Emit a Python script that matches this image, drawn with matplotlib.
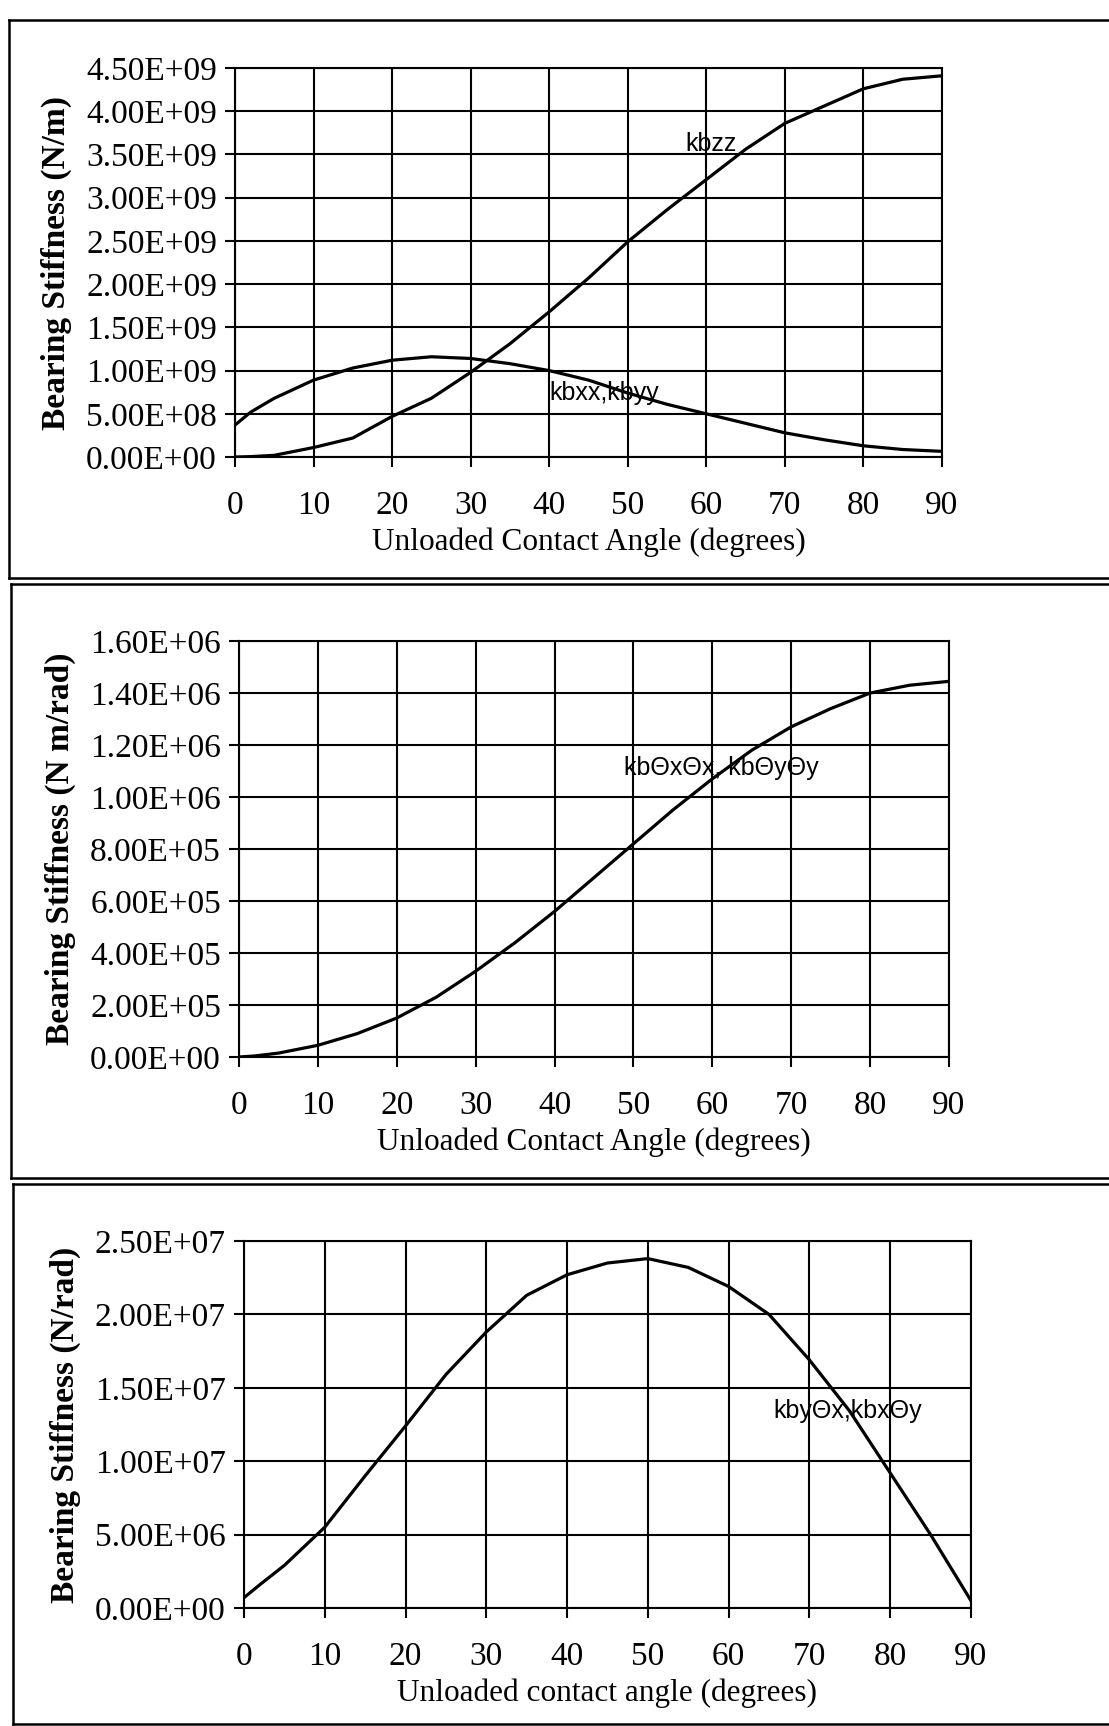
#!/usr/bin/env python3
# -*- coding: utf-8 -*-

import matplotlib
matplotlib.use("Agg")
import matplotlib.pyplot as plt
from matplotlib.ticker import FormatStrFormatter, MultipleLocator
from matplotlib.lines import Line2D

# Unloaded contact angle (degrees)
angle = [0, 2, 5, 10, 15, 20, 25, 30, 35, 40, 45, 50, 55, 60, 65, 70, 75, 80, 85, 90]

# Radial / axial stiffness (N/m)
kbzz = [0.0, 0.005e9, 0.02e9, 0.11e9, 0.22e9, 0.47e9, 0.68e9, 0.98e9, 1.31e9, 1.68e9,
        2.07e9, 2.49e9, 2.86e9, 3.21e9, 3.56e9, 3.86e9, 4.06e9, 4.26e9, 4.37e9, 4.41e9]
kbxx = [0.37e9, 0.52e9, 0.68e9, 0.89e9, 1.03e9, 1.12e9, 1.16e9, 1.14e9, 1.08e9, 1.0e9,
        0.89e9, 0.74e9, 0.61e9, 0.50e9, 0.39e9, 0.28e9, 0.20e9, 0.13e9, 0.087e9, 0.066e9]

# Tilting stiffness (N m/rad)
kbtt = [0.0, 0.004e6, 0.015e6, 0.045e6, 0.09e6, 0.15e6, 0.23e6, 0.33e6, 0.44e6, 0.56e6,
        0.69e6, 0.82e6, 0.95e6, 1.07e6, 1.18e6, 1.27e6, 1.34e6, 1.40e6, 1.43e6, 1.445e6]

# Cross coupling stiffness (N/rad)
kbct = [0.7e6, 1.6e6, 2.9e6, 5.5e6, 9.0e6, 12.4e6, 15.9e6, 18.8e6, 21.3e6, 22.7e6,
        23.5e6, 23.8e6, 23.2e6, 21.9e6, 20.0e6, 16.9e6, 13.4e6, 9.2e6, 5.0e6, 0.5e6]

SERIF = "Liberation Serif"
SANS = "Liberation Sans"


def setup(ax, ymax, ystep, ylabel, xlabel):
    ax.set_xlim(0, 90)
    ax.set_ylim(0, ymax)
    ax.xaxis.set_major_locator(MultipleLocator(10))
    ax.yaxis.set_major_locator(MultipleLocator(ystep))
    ax.yaxis.set_major_formatter(FormatStrFormatter("%.2E"))
    ax.grid(True, color="black", linewidth=1.5)
    for s in ax.spines.values():
        s.set_linewidth(1.5)
    ax.tick_params(direction="out", length=7, width=1.5, labelsize=24, pad=6)
    ax.tick_params(axis="x", pad=17)
    for lab in ax.get_xticklabels() + ax.get_yticklabels():
        lab.set_fontfamily(SERIF)
    ax.set_ylabel(ylabel, fontsize=24, fontfamily=SERIF, fontweight="bold", labelpad=10)
    ax.set_xlabel(xlabel, fontsize=22.5, fontfamily=SERIF, labelpad=5)


fig = plt.figure(figsize=(11.09, 17.26), dpi=100)

# panel frames, open on the right side
for top, bottom, left in [(20, 578, 9), (584, 1178, 11), (1184, 1724, 13)]:
    y0 = 1 - bottom / 1726
    y1 = 1 - top / 1726
    x0 = left / 1109
    for xs, ys in [([x0, 1.0], [y1, y1]), ([x0, 1.0], [y0, y0]), ([x0, x0], [y0, y1])]:
        fig.add_artist(Line2D(xs, ys, transform=fig.transFigure, color="black", linewidth=1.8))

ax1 = fig.add_axes([0.2119, 0.7352, 0.6375, 0.2254])
ax1.plot(angle, kbzz, color="black", linewidth=2.3)
ax1.plot(angle, kbxx, color="black", linewidth=2.3)
setup(ax1, 4.5e9, 0.5e9, "Bearing Stiffness (N/m)", "Unloaded Contact Angle (degrees)")
ax1.text(57.3, 3.62e9, "kbzz", fontsize=18, fontfamily=SANS, va="center")
ax1.text(40.0, 0.74e9, "kbxx,kbyy", fontsize=18, fontfamily=SANS, va="center")

ax2 = fig.add_axes([0.2155, 0.3876, 0.6402, 0.2410])
ax2.plot(angle, kbtt, color="black", linewidth=2.3)
setup(ax2, 1.6e6, 0.2e6, "Bearing Stiffness (N m/rad)", "Unloaded Contact Angle (degrees)")
ax2.text(48.8, 1.113e6, "kbΘxΘx, kbΘyΘy", fontsize=18, fontfamily=SANS, va="center")

ax3 = fig.add_axes([0.2200, 0.0684, 0.6555, 0.2126])
ax3.plot(angle, kbct, color="black", linewidth=2.3)
setup(ax3, 2.5e7, 0.5e7, "Bearing Stiffness (N/rad)", "Unloaded contact angle (degrees)")
ax3.text(65.5, 13.44e6, "kbyΘx,kbxΘy", fontsize=18, fontfamily=SANS, va="center")

fig.savefig("out.png", dpi=100)
